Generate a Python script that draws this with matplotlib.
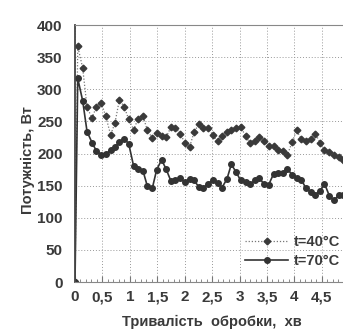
import matplotlib
matplotlib.use("Agg")
import matplotlib.pyplot as plt
from matplotlib.ticker import MultipleLocator, FixedLocator

# time, min
time = [0.00, 0.05, 0.14, 0.22, 0.31, 0.39, 0.48, 0.56, 0.65, 0.73, 0.81, 0.90,
        0.98, 1.07, 1.15, 1.24, 1.32, 1.41, 1.49, 1.58, 1.66, 1.75, 1.83, 1.92,
        2.00, 2.09, 2.17, 2.26, 2.34, 2.43, 2.51, 2.60, 2.68, 2.77, 2.85, 2.94,
        3.02, 3.11, 3.19, 3.28, 3.36, 3.45, 3.53, 3.62, 3.70, 3.79, 3.87, 3.96,
        4.04, 4.13, 4.21, 4.30, 4.38, 4.47, 4.55, 4.64, 4.72, 4.81, 4.89]

# power, W at t=40°C
p40 = [0, 367, 333, 272, 255, 273, 279, 258, 229, 248, 284, 272,
       253, 237, 254, 258, 236, 224, 232, 227, 225, 241, 240, 231,
       217, 210, 233, 246, 240, 240, 229, 219, 228, 233, 237, 240,
       241, 228, 216, 220, 226, 220, 212, 211, 205, 204, 197, 218,
       236, 222, 219, 222, 231, 217, 205, 202, 198, 195, 190]

# power, W at t=70°C
p70 = [0, 317, 282, 234, 217, 204, 198, 199, 205, 210, 218, 223,
       215, 180, 176, 173, 149, 146, 175, 190, 176, 157, 159, 162,
       155, 160, 158, 148, 147, 153, 159, 154, 147, 160, 183, 171,
       158, 155, 152, 158, 162, 152, 151, 168, 169, 170, 176, 167,
       162, 159, 146, 140, 136, 142, 153, 134, 127, 135, 136]

xticks = [0, 0.5, 1, 1.5, 2, 2.5, 3, 3.5, 4, 4.5]
xticklabels = ["0", "0,5", "1", "1,5", "2", "2,5", "3", "3,5", "4", "4,5"]
yticks = [0, 50, 100, 150, 200, 250, 300, 350, 400]

labels = ["t=40°C", "t=70°C"]
ylabel = "Потужність, Вт"
xlabel = "Тривалість  обробки,  хв"

plt.rcParams['font.family'] = ['Liberation Sans', 'DejaVu Sans']

W, H = 343, 329
fig = plt.figure(figsize=(W / 100, H / 100), dpi=100)
ax = fig.add_axes([75 / W, 47 / H, (W - 75) / W + 0.01, 257 / H])

tc = "#3a3a3a"
ax.plot(time, p40, linestyle=(0, (1, 1.5)), color="#777777", linewidth=0.9,
        marker="D", markersize=3.4, markerfacecolor="#3a3a3a",
        markeredgecolor="#3a3a3a", label=labels[0])
ax.plot(time, p70, linestyle="-", color="#333333", linewidth=1.2,
        marker="o", markersize=4.0, markerfacecolor="#333333",
        markeredgecolor="#333333", label=labels[1])

ax.set_xlim(0, 4.95)
ax.set_ylim(0, 400)
ax.xaxis.set_major_locator(FixedLocator(xticks))
ax.set_xticklabels(xticklabels)
ax.xaxis.set_minor_locator(MultipleLocator(0.1))
ax.set_yticks(yticks)

ax.grid(True, which="major", linestyle=(0, (1, 2)), color="#999999", linewidth=0.7)
ax.tick_params(axis="both", which="both", direction="in", colors="#777777",
               labelcolor=tc, labelsize=11)
ax.tick_params(axis="x", which="major", length=4, pad=6)
ax.tick_params(axis="x", which="minor", length=2.5)
ax.tick_params(axis="y", which="major", length=0, pad=9)
for lab in ax.get_xticklabels() + ax.get_yticklabels():
    lab.set_fontweight("bold")

ax.spines["right"].set_visible(False)
ax.spines["left"].set_color("#444444")
ax.spines["left"].set_linewidth(1.3)
ax.spines["bottom"].set_color("#888888")
ax.spines["top"].set_color("#888888")

fig.text(28 / W, 1 - 160 / H, ylabel, rotation=90, ha="center", va="center",
         fontsize=10.5, fontweight="bold", color=tc)
fig.text(212 / W, 1 - 322 / H, xlabel, ha="center", va="center",
         fontsize=10.5, fontweight="bold", color=tc)

leg = ax.legend(loc="lower right", bbox_to_anchor=(1.0, 0.03), frameon=False,
                fontsize=10.5, handlelength=3.0, handletextpad=0.4,
                borderaxespad=0.0, labelspacing=0.35)
for t in leg.get_texts():
    t.set_fontweight("bold")
    t.set_color(tc)

fig.savefig("out.png", dpi=100)
